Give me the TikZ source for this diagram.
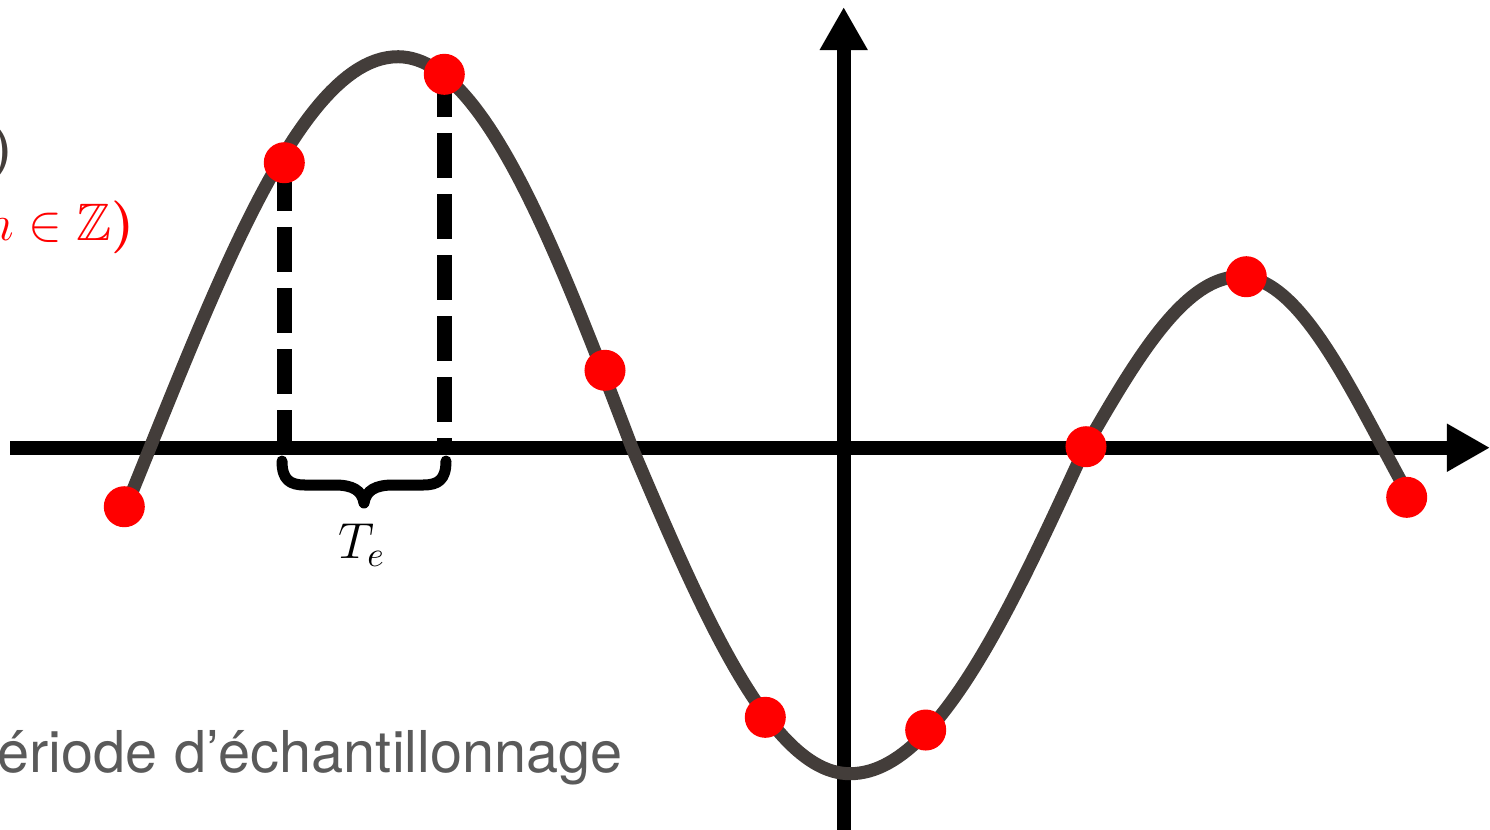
\documentclass[tikz,border=0pt]{standalone}
\usepackage{amssymb}
\usepackage{fontspec}
\newfontfamily\heros{TeX Gyre Heros}
\usetikzlibrary{arrows.meta}
\definecolor{curvegray}{HTML}{433D3A}
\definecolor{textgray}{HTML}{5A5A5A}
\tikzset{
  axisline/.style={line width=0.14cm, black, -{Triangle[length=0.43cm,width=0.45cm]}},
  signal/.style={line width=0.13cm, curvegray, line cap=round, line join=round},
  sampleline/.style={line width=0.15cm, black, dash pattern=on 0.45cm off 0.16cm},
  sample/.style={circle, fill=red, inner sep=0pt, minimum size=0.41cm},
  bracestroke/.style={line width=0.11cm, black, line cap=round, line join=round},
}
\begin{document}
\begin{tikzpicture}[x=0.01cm,y=-0.01cm]
\useasboundingbox (0,0) rectangle (1490,829);
\clip (0,0) rectangle (1490,829);
% axes
\coordinate (xs) at (10,447.7);
\coordinate (xe) at (1490,447.7);
\coordinate (ys) at (843.7,835);
\coordinate (ye) at (843.7,7);
\draw[axisline] (xs) -- (xe);
\draw[axisline] (ys) -- (ye);
% signal (piecewise quarter sine waves)
\draw[signal]
  plot[domain=124.3:398, samples=50] (\x, {447.7-391*sin(0.362903*(\x-150))})
  -- plot[domain=398:632, samples=50] (\x, {447.7-391*cos(0.384615*(\x-398))})
  -- plot[domain=632:850, samples=50] (\x, {447.7+326*sin(0.412844*(\x-632))})
  -- plot[domain=850:1085, samples=50] (\x, {447.7+326*cos(0.382979*(\x-850))})
  -- plot[domain=1085:1240, samples=40] (\x, {447.7-171*sin(0.580645*(\x-1085))})
  -- plot[domain=1240:1406.7, samples=40] (\x, {447.7-171*cos(0.629371*(\x-1240))});
% dashed sample lines
\coordinate (d1top) at (284.3,166);
\coordinate (d1bot) at (284.3,447);
\coordinate (d2top) at (444.3,72);
\coordinate (d2bot) at (444.3,442);
\draw[sampleline] (d1top) -- (d1bot);
\draw[sampleline] (d2top) -- (d2bot);
% samples
\node[sample] (s0) at (124.3,506.7) {};
\node[sample] (s1) at (284.3,162.7) {};
\node[sample] (s2) at (444.3,74.3) {};
\node[sample] (s3) at (605,370.3) {};
\node[sample] (s4) at (765.3,717.3) {};
\node[sample] (s5) at (925.7,730) {};
\node[sample] (s6) at (1086,446.7) {};
\node[sample] (s7) at (1246.3,276.7) {};
\node[sample] (s8) at (1406.7,497.3) {};
% brace
\draw[bracestroke] (282,461) .. controls (282,480) and (290,485) .. (305,485) -- (335,485)
  .. controls (352,485) and (362,490) .. (364,503);
\draw[bracestroke] (446,461) .. controls (446,480) and (438,485) .. (423,485) -- (393,485)
  .. controls (376,485) and (366,490) .. (364,503);
\node[inner sep=0pt] (te) at (362,545) {\fontsize{14}{16}\selectfont $T_e$};
% labels (cut off at the left edge)
\node[inner sep=0pt, anchor=base east, text=curvegray] (xt) at (15,166)
  {\fontsize{16}{19}\selectfont\bfseries )};
\node[inner sep=0pt, anchor=base east, text=red] (xn) at (135,240)
  {\fontsize{15}{18}\selectfont $n\in\mathbb{Z}$\bfseries )};
\node[inner sep=0pt, anchor=base west, text=textgray] (per) at (-3,772)
  {\heros\fontsize{16.4}{19}\selectfont ériode d’échantillonnage};
\end{tikzpicture}
\end{document}
